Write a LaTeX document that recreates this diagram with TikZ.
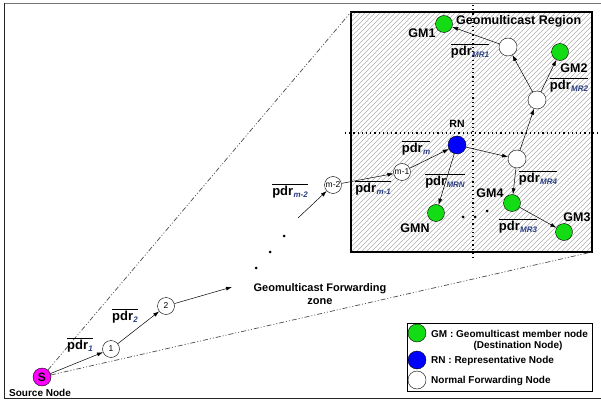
\documentclass[tikz,border=0pt]{standalone}
\usepackage{fontspec}
\setmainfont{Liberation Sans}
\usetikzlibrary{arrows.meta}
\definecolor{gmgreen}{RGB}{20,220,20}
\definecolor{rnblue}{RGB}{0,0,255}
\definecolor{srcmag}{RGB}{255,0,255}
\definecolor{subblue}{RGB}{40,60,130}
\definecolor{hatchgray}{RGB}{175,175,175}
\newcommand\pdrl[1]{$\overline{\hbox{\fontsize{13}{13}\selectfont\bfseries pdr\kern0.3pt\textcolor{subblue}{\fontsize{8}{8}\selectfont\itshape\raisebox{-2.5pt}{#1}}}}$}
\begin{document}
\begin{tikzpicture}[x=1pt,y=-1pt,
  arr/.style={-{Latex[length=6pt,width=4pt]}, line width=0.5pt},
  fwd/.style={circle,draw,fill=white,minimum size=17pt,inner sep=0pt,font=\fontsize{8.5}{9}\selectfont},
  gmnode/.style={circle,draw,fill=gmgreen,minimum size=17pt,inner sep=0pt},
  rnnode/.style={circle,draw,fill=rnblue,minimum size=18pt,inner sep=0pt},
  wnode/.style={circle,draw,fill=white,minimum size=18pt,inner sep=0pt},
  lbl/.style={font=\fontsize{12.5}{13}\selectfont\bfseries,inner sep=0pt},
  pdr/.style={inner sep=0pt},
  legtxt/.style={font=\fontsize{10}{11}\selectfont\bfseries,inner sep=0pt,anchor=west},
  dotpat/.style={line width=1.2pt,dash pattern=on 1.2pt off 3pt},
  ddot/.style={line width=0.7pt,black!70,dash pattern=on 5pt off 2pt on 1pt off 2pt on 1pt off 2pt},
  dotmark/.style={circle,fill=black,inner sep=0pt,minimum size=3pt}]
\useasboundingbox (0,0) rectangle (601,403);
% frame
\draw[black!55,line width=0.8pt] (4,3) -- (601,3);
\draw[black!85,line width=1pt] (4,3) -- (4,398) -- (601,398);
% region box
\coordinate (boxnw) at (351,12);
\coordinate (boxse) at (592,252);
\fill[white] (boxnw) rectangle (boxse);
\begin{scope}
\clip (boxnw) rectangle (boxse);
\foreach \x in {106,111,...,596} \draw[hatchgray,line width=0.45pt] (\x,252) -- +(240,-240);
\end{scope}
\draw[line width=1.8pt] (boxnw) rectangle (boxse);
% dotted axes
\draw[dotpat] (345,133) -- (601,133);
\draw[dotpat] (473,5) -- (473,260);
% nodes
\node[circle,draw,fill=srcmag,minimum size=18pt,inner sep=0pt,font=\fontsize{12}{12}\selectfont\bfseries] (S) at (42,377) {S};
\node[fwd] (n1) at (111,349) {1};
\node[fwd] (n2) at (166,306) {2};
\node[fwd] (m2) at (333,185) {m-2};
\node[fwd] (m1) at (402,172) {m-1};
\node[rnnode] (RN) at (457,145) {};
\node[wnode] (MR4) at (517,159) {};
\node[wnode] (MR2) at (537,100) {};
\node[wnode] (MR1) at (508,47) {};
\node[gmnode] (GM1) at (444,24) {};
\node[gmnode] (GM2) at (560,52) {};
\node[gmnode] (GM4) at (512,203) {};
\node[gmnode] (GM3) at (564,232) {};
\node[gmnode] (GMN) at (436,213) {};
\coordinate (f1) at (232,287);
\coordinate (f2) at (298,218);
% dash-dot cone
\draw[ddot] (S) -- (boxnw);
\draw[ddot] (S) -- (boxse);
% arrows
\draw[arr] (S) -- (n1);
\draw[arr] (n1) -- (n2);
\draw[arr] (n2) -- (f1);
\draw[arr] (f2) -- (m2);
\draw[arr] (m2) -- (m1);
\draw[arr] (m1) -- (RN);
\draw[arr] (RN) -- (GMN);
\draw[arr] (RN) -- (MR4);
\draw[arr] (MR4) -- (GM4);
\draw[arr] (GM4) -- (GM3);
\draw[arr] (MR4) -- (MR2);
\draw[arr] (MR2) -- (MR1);
\draw[arr] (MR2) -- (GM2);
\draw[arr] (MR1) -- (GM1);
% labels
\node[font=\fontsize{12.5}{13}\selectfont\bfseries,inner sep=0pt,anchor=west] (title) at (456,21) {Geomulticast Region};
\node[lbl] (lGM1) at (422,33) {GM1};
\node[lbl] (lGM2) at (574,68) {GM2};
\node[lbl] (lGM4) at (490,193) {GM4};
\node[lbl] (lGM3) at (577,217) {GM3};
\node[lbl] (lGMN) at (415,228) {GMN};
\node[font=\fontsize{10.5}{10}\selectfont\bfseries,inner sep=0pt] (lRN) at (457,124) {RN};
\node[pdr] (p1) at (80,345) {\pdrl{1}};
\node[pdr] (p2) at (125,316) {\pdrl{2}};
\node[pdr] (pm2) at (290,191) {\pdrl{m-2}};
\node[pdr] (pm1) at (373,188) {\pdrl{m-1}};
\node[pdr] (pm) at (416,148) {\pdrl{m}};
\node[pdr] (pMRN) at (445,181) {\pdrl{MRN}};
\node[pdr] (pMR4) at (538,178) {\pdrl{MR4}};
\node[pdr] (pMR3) at (518,226) {\pdrl{MR3}};
\node[pdr] (pMR1) at (470,51) {\pdrl{MR1}};
\node[pdr] (pMR2) at (569,85) {\pdrl{MR2}};
% continuation dots
\node[dotmark] (d1) at (463,217) {};
\node[dotmark] (d2) at (475,217) {};
\node[dotmark] (d3) at (487,211) {};
\node[dotmark] (d4) at (284,236) {};
\node[dotmark] (d5) at (270,252) {};
\node[dotmark] (d6) at (256,268) {};
% zone text
\node[font=\fontsize{11}{13}\selectfont\bfseries,align=center,inner sep=0pt] (zone) at (320,294) {Geomulticast Forwarding\\zone};
\node[font=\fontsize{10}{10}\selectfont\bfseries,inner sep=0pt] (src) at (40,393) {Source Node};
% legend
\draw[line width=0.8pt] (407,323) rectangle (592,391);
\node[gmnode,minimum size=18pt] (lg1) at (417,333) {};
\node[rnnode,minimum size=18pt] (lg2) at (417,360) {};
\node[wnode,minimum size=18pt] (lg3) at (417,380) {};
\node[legtxt] (t1) at (431,334) {GM : Geomulticast member node};
\node[font=\fontsize{10}{11}\selectfont\bfseries,inner sep=0pt] (t1b) at (518,346) {(Destination Node)};
\node[legtxt] (t2) at (431,361) {RN : Representative Node};
\node[legtxt] (t3) at (431,381) {Normal Forwarding Node};
\end{tikzpicture}
\end{document}
